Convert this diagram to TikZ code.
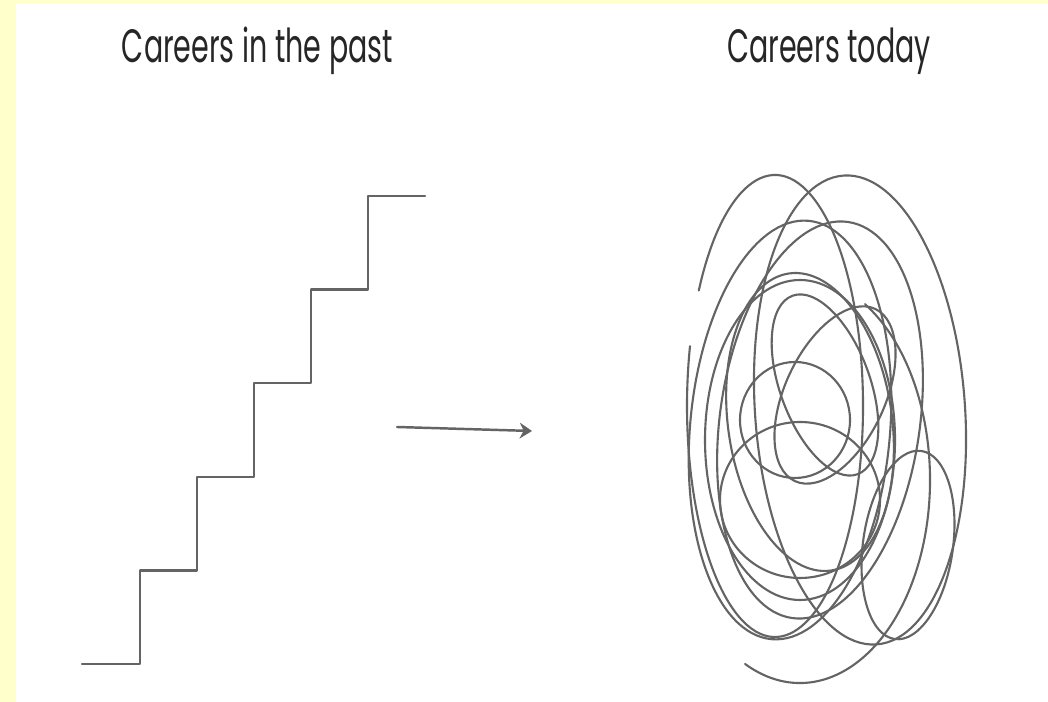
\documentclass[tikz,border=0pt]{standalone}
\usepackage{fontspec}
\setmainfont{Poppins}
\usetikzlibrary{arrows.meta}
\definecolor{paleyellow}{RGB}{255,255,204}
\definecolor{inkgray}{RGB}{100,100,100}
\begin{document}
\begin{tikzpicture}[>={Stealth[length=3.5pt,width=4.5pt]}, line join=round, line cap=round,
  title/.style={font=\fontsize{13.3pt}{16pt}\selectfont, text=black!85, xscale=0.61, anchor=base, inner sep=0pt},
  stair/.style={inkgray, line width=0.7pt},
  scrib/.style={inkgray, line width=0.6pt}]
\def\dx{0.57} \def\dy{0.936}
\fill[paleyellow] (0,0) rectangle (10.48,7.02);
\fill[white] (0.16,0) rectangle (10.48,6.99);
\useasboundingbox (0,0) rectangle (10.48,7.02);
\node[title] (past) at (2.575,6.39) {Careers in the past};
\node[title] (today) at (8.29,6.39) {Careers today};
% staircase
\draw[stair] (0.82,0.38) -- (1.40,0.38) \foreach \i in {1,...,5} { -- ++(0,\dy) -- ++(\dx,0) };
% arrow
\coordinate (arrS) at (3.97,2.75);
\coordinate (arrE) at (5.32,2.71);
\draw[stair,->] (arrS) -- (arrE);
% scribble
\draw[scrib] (7.75,2.96) ++(150:0.88 and 2.31) arc[start angle=150, end angle=-195, x radius=0.88, y radius=2.31];
\foreach \cx/\cy/\rx/\ry/\rot in {8.60/2.92/1.05/2.35/4, 7.90/2.72/1.00/2.10/-5, 8.20/2.82/1.00/2.00/-8,
  8.00/2.62/0.95/1.60/0, 8.10/2.80/0.82/1.50/8, 7.95/2.82/0.55/0.58/0, 8.25/3.17/0.45/0.95/20,
  8.35/3.07/0.50/0.95/-25, 8.00/2.02/0.80/0.78/0, 9.08/1.57/0.45/0.95/-8}
  \draw[scrib, rotate around={\rot:(\cx,\cy)}] (\cx,\cy) ellipse[x radius=\rx, y radius=\ry];
\draw[scrib] (8.00,2.22) ++(-115:1.30 and 2.03) arc[start angle=-115, end angle=60, x radius=1.30, y radius=2.03];
\end{tikzpicture}
\end{document}
